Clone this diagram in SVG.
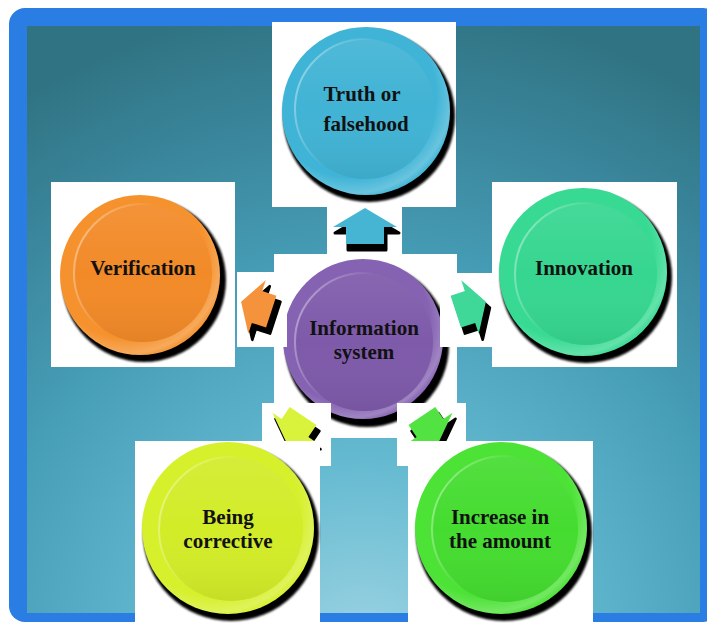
<svg xmlns="http://www.w3.org/2000/svg" width="707" height="623" viewBox="0 0 707 623">
<defs>
<radialGradient id="bg" gradientUnits="userSpaceOnUse" cx="365" cy="650" r="650">
<stop offset="0" stop-color="#9dd4e3"/>
<stop offset="0.3" stop-color="#63b9d0"/>
<stop offset="0.6" stop-color="#469db6"/>
<stop offset="0.85" stop-color="#388297"/>
<stop offset="1" stop-color="#307483"/>
</radialGradient>
<radialGradient id="rim" cx="0.42" cy="0.4" r="0.62">
<stop offset="0.8" stop-color="#fff" stop-opacity="0"/>
<stop offset="0.95" stop-color="#fff" stop-opacity="0.22"/>
<stop offset="1" stop-color="#fff" stop-opacity="0.05"/>
</radialGradient>
<linearGradient id="faceShade" x1="0" y1="0" x2="0" y2="1">
<stop offset="0" stop-color="#fff" stop-opacity="0.08"/>
<stop offset="0.5" stop-color="#fff" stop-opacity="0"/>
<stop offset="1" stop-color="#000" stop-opacity="0.06"/>
</linearGradient>
<linearGradient id="faceEdge" x1="0" y1="0.3" x2="1" y2="0.7">
<stop offset="0" stop-color="#fff" stop-opacity="0.4"/>
<stop offset="0.4" stop-color="#fff" stop-opacity="0"/>
</linearGradient>
<filter id="soft" x="-10%" y="-10%" width="120%" height="120%"><feGaussianBlur stdDeviation="1"/></filter>
<polygon id="arr" points="0,-19 32,0 19,0 19,17 -19,17 -19,0 -32,0"/>
</defs>
<style>
.frame{fill:#2a7de2}
.panel{fill:url(#bg)}
.box{fill:#fff}
.shadow{fill:#000;filter:url(#soft)}
.rim{fill:url(#rim)}
.shade{fill:url(#faceShade)}
.edge{fill:none;stroke:url(#faceEdge);stroke-width:2}
.lbl{font-family:"Liberation Serif","Times New Roman",serif;font-weight:bold;font-size:21px;fill:#111;text-anchor:middle}
.ashadow{fill:#000;stroke:#000;stroke-width:3;stroke-linejoin:round}
</style>
<rect class="frame" x="9" y="8" width="710" height="614" rx="16"/>
<rect class="panel" x="27" y="26" width="673" height="587"/>

<g id="center">
<rect class="box" x="274" y="254" width="183" height="184"/>
<circle class="shadow" cx="367" cy="345" r="82"/>
<circle cx="363" cy="339" r="80" fill="#8562b2"/>
<circle class="rim" cx="363" cy="339" r="80"/>
<circle cx="364" cy="342" r="69" fill="#7e5aaa"/>
<circle class="shade" cx="364" cy="342" r="69"/>
<circle class="edge" cx="364" cy="342" r="69"/>
<text class="lbl" x="364" y="335">Information</text>
<text class="lbl" x="364" y="359">system</text>
</g>

<g id="connectors">
<rect class="box" x="327" y="207" width="75" height="47"/>
<use href="#arr" class="ashadow" transform="translate(367,233)"/>
<use href="#arr" fill="#46b5d3" transform="translate(365,227)"/>
<rect class="box" x="237" y="272" width="50" height="75"/>
<use href="#arr" class="ashadow" transform="translate(261,313) rotate(-72) scale(0.88)"/>
<use href="#arr" fill="#f5923c" transform="translate(257,307) rotate(-72) scale(0.88)"/>
<rect class="box" x="440" y="273" width="52" height="74"/>
<use href="#arr" class="ashadow" transform="translate(474,313) rotate(72) scale(0.88)"/>
<use href="#arr" fill="#40d898" transform="translate(470,307) rotate(72) scale(0.88)"/>
<rect class="box" x="262" y="403" width="69" height="63"/>
<use href="#arr" class="ashadow" transform="translate(298,434) rotate(-146) scale(0.85)"/>
<use href="#arr" fill="#d9f23c" transform="translate(295,428) rotate(-146) scale(0.85)"/>
<rect class="box" x="397" y="403" width="69" height="63"/>
<use href="#arr" class="ashadow" transform="translate(433,434) rotate(146) scale(0.85)"/>
<use href="#arr" fill="#52e242" transform="translate(430,428) rotate(146) scale(0.85)"/>
</g>

<g id="truth">
<rect class="box" x="272" y="22" width="184" height="185"/>
<circle class="shadow" cx="369" cy="116" r="86"/>
<circle cx="366" cy="111" r="84" fill="#3fb4d6"/>
<circle class="rim" cx="366" cy="111" r="84"/>
<circle cx="365" cy="109" r="70" fill="#41b3d4"/>
<circle class="shade" cx="365" cy="109" r="70"/>
<circle class="edge" cx="365" cy="109" r="70"/>
<text class="lbl" x="362" y="101">Truth or</text>
<text class="lbl" x="366" y="131">falsehood</text>
</g>

<g id="verification">
<rect class="box" x="51" y="182" width="184" height="185"/>
<circle class="shadow" cx="144" cy="280" r="82"/>
<circle cx="140" cy="275" r="80" fill="#f5922e"/>
<circle class="rim" cx="140" cy="275" r="80"/>
<circle cx="143" cy="273" r="69" fill="#f28a28"/>
<circle class="shade" cx="143" cy="273" r="69"/>
<circle class="edge" cx="143" cy="273" r="69"/>
<text class="lbl" x="143" y="275">Verification</text>
</g>

<g id="innovation">
<rect class="box" x="492" y="182" width="185" height="185"/>
<circle class="shadow" cx="586" cy="277" r="86"/>
<circle cx="583" cy="272" r="84" fill="#38da93"/>
<circle class="rim" cx="583" cy="272" r="84"/>
<circle cx="586" cy="274" r="71" fill="#36d690"/>
<circle class="shade" cx="586" cy="274" r="71"/>
<circle class="edge" cx="586" cy="274" r="71"/>
<text class="lbl" x="584" y="275">Innovation</text>
</g>

<g id="corrective">
<rect class="box" x="135" y="441" width="185" height="182"/>
<circle class="shadow" cx="231" cy="533" r="88"/>
<circle cx="228" cy="528" r="86" fill="#d6f02c"/>
<circle class="rim" cx="228" cy="528" r="86"/>
<circle cx="231" cy="529" r="72" fill="#d2ec28"/>
<circle class="shade" cx="231" cy="529" r="72"/>
<circle class="edge" cx="231" cy="529" r="72"/>
<text class="lbl" x="228" y="524">Being</text>
<text class="lbl" x="228" y="548">corrective</text>
</g>

<g id="increase">
<rect class="box" x="408" y="441" width="185" height="182"/>
<circle class="shadow" cx="504" cy="533" r="88"/>
<circle cx="501" cy="528" r="86" fill="#4ce236"/>
<circle class="rim" cx="501" cy="528" r="86"/>
<circle cx="505" cy="529" r="73" fill="#45dc30"/>
<circle class="shade" cx="505" cy="529" r="73"/>
<circle class="edge" cx="505" cy="529" r="73"/>
<text class="lbl" x="500" y="524">Increase in</text>
<text class="lbl" x="500" y="548">the amount</text>
</g>
</svg>
